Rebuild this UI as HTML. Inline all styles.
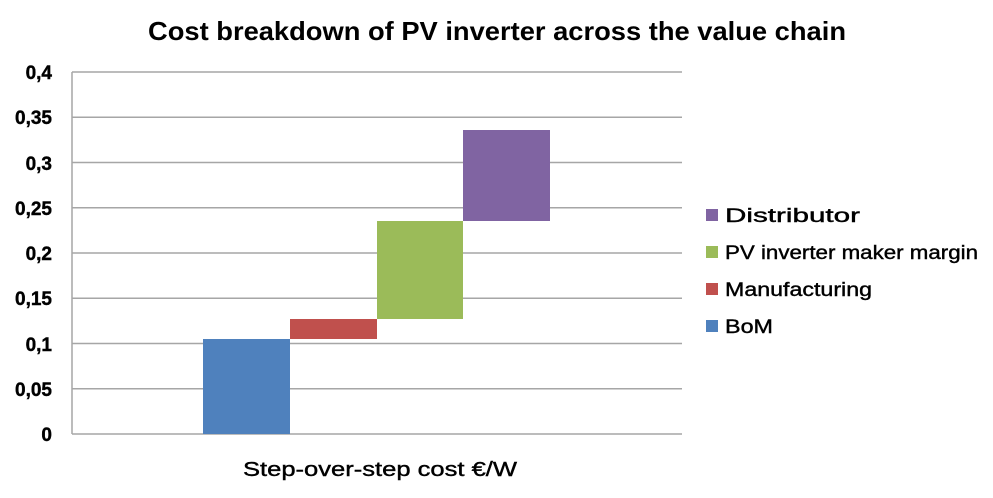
<!DOCTYPE html>
<html><head><style>body{margin:0;background:#fff}</style></head><body>
<svg width="993" height="493" xmlns="http://www.w3.org/2000/svg" font-family="Liberation Sans, sans-serif">
<rect width="993" height="493" fill="#fff"/>
<text x="148" y="40" textLength="698" lengthAdjust="spacingAndGlyphs" font-size="26" font-weight="bold" fill="#000">Cost breakdown of PV inverter across the value chain</text>
<g stroke="#a6a6a6" stroke-width="1.5">
<line x1="72" y1="72" x2="682" y2="72"/><line x1="72" y1="117.3" x2="682" y2="117.3"/>
<line x1="72" y1="162.5" x2="682" y2="162.5"/><line x1="72" y1="207.8" x2="682" y2="207.8"/>
<line x1="72" y1="253" x2="682" y2="253"/><line x1="72" y1="298.3" x2="682" y2="298.3"/>
<line x1="72" y1="343.5" x2="682" y2="343.5"/><line x1="72" y1="388.8" x2="682" y2="388.8"/>
<line x1="72" y1="434" x2="682" y2="434"/><line x1="72" y1="72" x2="72" y2="434"/>
</g>
<rect x="203" y="339" width="87" height="95" fill="#4f81bd"/>
<rect x="290" y="319" width="87" height="20" fill="#c0504d"/>
<rect x="377" y="221" width="86" height="98" fill="#9bbb59"/>
<rect x="463" y="130" width="87" height="91" fill="#8064a2"/>
<g font-size="19" font-weight="600" text-anchor="end" fill="#000" stroke="#000" stroke-width="0.4">
<text x="52" y="79">0,4</text><text x="52" y="124">0,35</text><text x="52" y="170">0,3</text>
<text x="52" y="215">0,25</text><text x="52" y="260">0,2</text><text x="52" y="305">0,15</text>
<text x="52" y="351">0,1</text><text x="52" y="396">0,05</text><text x="52" y="441">0</text>
</g>
<g fill="#000" stroke="#000" stroke-width="0.4">
<text x="243" y="476" textLength="274" lengthAdjust="spacingAndGlyphs" font-size="20">Step-over-step cost €/W</text>
</g>
<g font-size="19" fill="#000" stroke="#000" stroke-width="0.4">
<rect x="706" y="209" width="12" height="12" fill="#8064a2" stroke="none"/><text x="725" y="222" textLength="135" lengthAdjust="spacingAndGlyphs">Distributor</text>
<rect x="706" y="246" width="12" height="12" fill="#9bbb59" stroke="none"/><text x="725" y="259" textLength="253" lengthAdjust="spacingAndGlyphs">PV inverter maker margin</text>
<rect x="706" y="283" width="12" height="12" fill="#c0504d" stroke="none"/><text x="725" y="296" textLength="147" lengthAdjust="spacingAndGlyphs">Manufacturing</text>
<rect x="706" y="320" width="12" height="12" fill="#4f81bd" stroke="none"/><text x="725" y="333" textLength="48" lengthAdjust="spacingAndGlyphs">BoM</text>
</g>
</svg>
</body></html>
